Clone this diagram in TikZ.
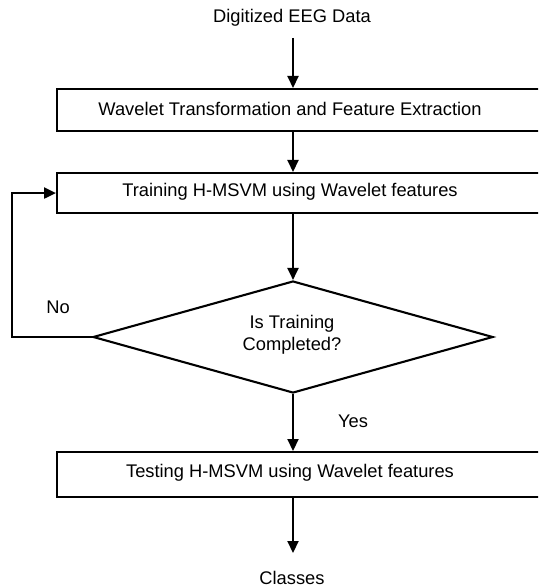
\documentclass[tikz,border=0pt]{standalone}
\usepackage{fontspec}
\setmainfont{Liberation Sans}
\usetikzlibrary{arrows.meta,shapes.geometric}
\begin{document}
\begin{tikzpicture}[x=1pt,y=-1pt,
  every node/.style={font=\fontsize{18.3}{22}\selectfont},
  procbox/.style={draw, line width=2.1pt, rectangle, inner sep=0pt, anchor=north west, minimum width=520pt},
  decision/.style={draw, line width=2.1pt, diamond, inner sep=0pt, aspect=3.57, minimum width=400pt, minimum height=112pt},
  label/.style={inner sep=0pt, align=center},
  arr/.style={line width=2.1pt, -{Triangle[length=12pt,width=11pt]}},
  ln/.style={line width=2.1pt}]
\useasboundingbox (0,0) rectangle (538,588);
\clip (0,0) rectangle (538,588);
% texts
\node[label] (in) at (292,18) {Digitized EEG Data};
\node[procbox, minimum height=42pt] (b1) at (56,88) {};
\node[label] (t1) at (290,109) {Wavelet Transformation and Feature Extraction};
\node[procbox, minimum height=40pt] (b2) at (56,172) {};
\node[label] (t2) at (290,192) {Training H-MSVM using Wavelet features};
\node[decision] (d) at (293,337) {};
\node[label] (td) at (292,335) {Is Training\\Completed?};
\node[procbox, minimum height=45pt] (b3) at (56,451) {};
\node[label] (t3) at (290,473) {Testing H-MSVM using Wavelet features};
\node[label] (out) at (292,578) {Classes};
\node[label] (no) at (58,307) {No};
\node[label] (yes) at (353,421) {Yes};
\coordinate (c1) at (12,337);
\coordinate (x) at (293,0);
% connectors
\draw[arr] (x |- 0,38) -- (x |- b1.north);
\draw[arr] (x |- b1.south) -- (x |- b2.north);
\draw[arr] (x |- b2.south) -- (d.north);
\draw[arr] (d.south) -- (x |- b3.north);
\draw[arr] (x |- b3.south) -- (x |- 0,553);
\draw[arr] (d.west) -- (c1) |- (b2.west);
\end{tikzpicture}
\end{document}
